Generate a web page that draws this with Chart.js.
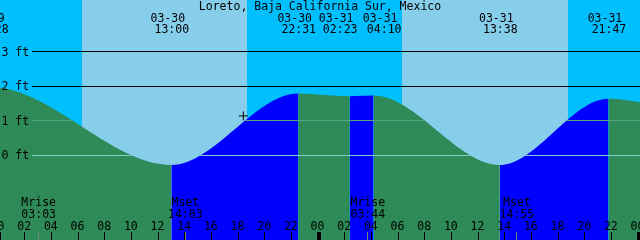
<!DOCTYPE html>
<html>
<head>
<meta charset="utf-8">
<script src="https://cdn.jsdelivr.net/npm/chart.js@4.4.1/dist/chart.umd.min.js"></script>
<style>
  body { margin: 0; background: #fff; }
  #wrap { width: 640px; height: 240px; position: relative; }
</style>
</head>
<body>
<div id="wrap"><canvas id="tideChart"></canvas></div>
<script>
// Tide data (local time, feet)
const stationName = 'Loreto, Baja California Sur, Mexico';
const tideTimes = ['03-29 12:20', '03-29 23:28', '03-30 13:00', '03-30 22:31', '03-31 02:23', '03-31 04:10', '03-31 13:38', '03-31 21:47', '04-01 03:05'];
const tideFeet = [-0.30, 1.97, -0.28, 1.79, 1.71, 1.73, -0.28, 1.64, 1.30];

// Moon events
const moonTimes = ['03-30 03:03', '03-30 14:03', '03-31 03:44', '03-31 14:55'];
const moonNames = ['Mrise', 'Mset', 'Mrise', 'Mset'];

// Daylight
const sunriseTimes = ['03-30 06:18', '03-31 06:18'];
const sunsetTimes = ['03-30 18:41', '03-31 18:45'];

// Axis ticks
const hourTicks = [0, 2, 4, 6, 8, 10, 12, 14, 16, 18, 20, 22, 24, 26, 28, 30, 32, 34, 36, 38, 40, 42, 44, 46, 48];
const depthTicks = [0, 1, 2, 3];

// Current time marker
const nowTime = '03-30 18:24';
const nowFeet = 1.14;

const FONT = '11.5px "DejaVu Sans Mono", monospace';
const FLOOD = '#0000ff';
const EBB = '#2e8b57';
const LABEL_SEP = 44;

// hours since 03-30 00:00
function toHours(s) {
    const month = +s.slice(0, 2), day = +s.slice(3, 5);
    const hh = +s.slice(6, 8), mm = +s.slice(9, 11);
    const dayIndex = month === 4 ? day + 1 : day - 30;
    return dayIndex * 24 + hh + mm / 60;
}

function pad(n) {
    return String(n).padStart(2, '0');
}

const maxFeet = Math.max(...tideFeet);

const tidePlugin = {
    id: 'tide',
    beforeDatasetsDraw(chart) {
        const ctx = chart.ctx;
        const xs = chart.scales.x;
        ctx.save();
        ctx.fillStyle = '#00bfff';
        ctx.fillRect(0, 0, chart.width, chart.height);
        ctx.fillStyle = '#87ceeb';
        sunriseTimes.forEach((t, i) => {
            const a = Math.round(xs.getPixelForValue(toHours(t)));
            const b = Math.round(xs.getPixelForValue(toHours(sunsetTimes[i])));
            ctx.fillRect(a, 0, b - a, chart.height);
        });
        ctx.restore();
    },
    afterDatasetDraw(chart, args) {
        if (args.index !== 1) return;
        const ctx = chart.ctx;
        const ys = chart.scales.y;
        const line = args.meta.dataset;
        const pts = line.points;
        const bottom = chart.chartArea.bottom;
        ctx.save();
        // clip to the water under the curve
        ctx.beginPath();
        line.segments.forEach(seg => {
            line.pathSegment(ctx, seg, { move: true });
            ctx.lineTo(pts[seg.end].x, bottom);
            ctx.lineTo(pts[seg.start].x, bottom);
            ctx.closePath();
        });
        ctx.clip();
        depthTicks.forEach(d => {
            if (d > maxFeet) return;
            ctx.fillStyle = d === 0 ? '#84cccc' : '#58a486';
            ctx.fillRect(32, Math.floor(ys.getPixelForValue(d)), chart.width, 1);
        });
        ctx.restore();
    },
    afterDraw(chart) {
        const ctx = chart.ctx;
        const xs = chart.scales.x, ys = chart.scales.y;
        ctx.save();
        ctx.font = FONT;
        ctx.fillStyle = '#000';

        // depth lines above the water and labels
        depthTicks.forEach(d => {
            const y = ys.getPixelForValue(d);
            if (d > maxFeet) ctx.fillRect(32, Math.floor(y), chart.width, 1);
            ctx.textAlign = 'left';
            ctx.fillText(d + ' ft', 1.5, y + 4);
        });

        // title
        ctx.textAlign = 'center';
        ctx.fillText(stationName, 320, 10);

        // high / low labels, pushed apart when they crowd
        const centers = tideTimes.map(t => xs.getPixelForValue(toHours(t)));
        for (let i = 1; i < centers.length; i++) {
            const gap = centers[i] - centers[i - 1];
            if (gap < LABEL_SEP) {
                const shift = (LABEL_SEP - gap) / 2;
                centers[i - 1] -= shift;
                centers[i] += shift;
            }
        }
        tideTimes.forEach((t, i) => {
            ctx.fillText(t.slice(0, 5), centers[i] - 3.5, 21.5);
            ctx.fillText(t.slice(6), centers[i] + 0.5, 33);
        });

        // moon events
        moonTimes.forEach((t, i) => {
            const x = xs.getPixelForValue(toHours(t));
            ctx.fillStyle = '#000';
            ctx.fillText(moonNames[i], x, 206);
            ctx.fillText(t.slice(6), x, 218);
            ctx.fillStyle = '#6f8a7c';
            ctx.fillRect(Math.floor(x), 232, 1, 8);
        });

        // hour axis
        ctx.fillStyle = '#000';
        hourTicks.forEach(h => {
            const x = xs.getPixelForValue(h);
            ctx.fillText(pad(h % 24), x - 0.5, 230);
            if (h % 24 === 0) ctx.fillRect(Math.floor(x) - 1, 232, 4, 8);
            else ctx.fillRect(Math.floor(x), 232, 1, 8);
        });
        ctx.restore();
    }
};

const ctx = document.getElementById('tideChart').getContext('2d');
const tideChart = new Chart(ctx, {
    type: 'line',
    data: {
        datasets: [{
            type: 'scatter',
            data: [{ x: toHours(nowTime), y: nowFeet }],
            pointStyle: 'cross',
            pointRadius: 4.5,
            borderColor: '#000',
            borderWidth: 1
        }, {
            data: tideTimes.map((t, i) => ({ x: toHours(t), y: tideFeet[i] })),
            cubicInterpolationMode: 'monotone',
            borderColor: 'rgba(0,0,0,0)',
            borderWidth: 0,
            pointRadius: 0,
            fill: 'start',
            backgroundColor: EBB,
            segment: {
                backgroundColor: c => c.p1.parsed.y > c.p0.parsed.y ? FLOOD : EBB
            }
        }]
    },
    options: {
        responsive: true,
        maintainAspectRatio: false,
        animation: false,
        events: [],
        layout: { autoPadding: false, padding: 0 },
        plugins: {
            legend: { display: false },
            tooltip: { enabled: false }
        },
        scales: {
            x: { type: 'linear', display: false, min: 0.15, max: 48.15 },
            y: { type: 'linear', display: false, min: -2.452, max: 4.495 }
        }
    },
    plugins: [tidePlugin]
});
</script>
</body>
</html>
